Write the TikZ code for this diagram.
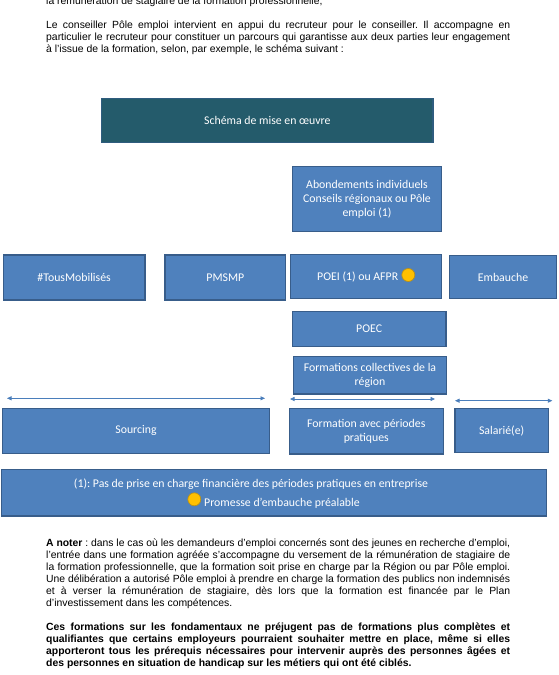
\documentclass[tikz,border=0pt]{standalone}
\usepackage{fontspec}
\setmainfont{Liberation Sans}
\newfontfamily\boxfont{Carlito}
\usetikzlibrary{arrows.meta}
\definecolor{boxfill}{HTML}{4F81BD}
\definecolor{boxdraw}{HTML}{385D8A}
\definecolor{tealfill}{HTML}{245B6B}
\definecolor{tealdraw}{HTML}{2F5C7E}
\definecolor{arrowcol}{HTML}{4A7EBB}
\definecolor{dotfill}{HTML}{FFC000}
\definecolor{dotdraw}{HTML}{B8901A}
\frenchspacing
\newsavebox\jbox
\newcommand\jline[1]{\sbox\jbox{#1}\ifdim\wd\jbox>464pt\relax\resizebox{464pt}{\ht\jbox}{\usebox\jbox}\else\makebox[464pt][s]{#1}\fi}
\begin{document}
\begin{tikzpicture}[x=1pt,y=-1pt,
  box/.style={draw=boxdraw, line width=1.2pt, fill=boxfill, text=white,
    font=\boxfont\fontsize{11.8}{14}\selectfont, align=center, inner sep=0pt},
  boxtext/.style={text=white, font=\boxfont\fontsize{11.8}{14}\selectfont, inner sep=0pt},
  body/.style={anchor=base west, inner sep=0pt, font=\fontsize{10.4}{12}\selectfont},
  span/.style={draw=arrowcol, line width=0.8pt,
    {Triangle[length=4.5pt,width=4pt]}-{Triangle[length=4.5pt,width=4pt]}},
  dot/.style={circle, fill=dotfill, draw=dotdraw, line width=0.7pt,
    minimum size=13pt, inner sep=0pt}]
\useasboundingbox (0,0) rectangle (558,675);
\fill[white] (0,0) rectangle (558,675);

% top text
\node[body] (t0) at (46,4) {la rémunération de stagiaire de la formation professionnelle,};
\node[body] (t1) at (46,28) {\jline{Le conseiller Pôle emploi intervient en appui du recruteur pour le conseiller. Il accompagne en}};
\node[body] (t2) at (46,40) {\jline{particulier le recruteur pour constituer un parcours qui garantisse aux deux parties leur engagement}};
\node[body] (t3) at (46,52) {à l’issue de la formation, selon, par exemple, le schéma suivant :};

% diagram
\node[box, draw=tealdraw, fill=tealfill, minimum width=331.3pt, minimum height=44.4pt] (schema) at (267.35,120.5) {Schéma de mise en œuvre};
\node[box, minimum width=149.4pt, minimum height=65pt] (abond) at (367,199.2) {Abondements individuels\\Conseils régionaux ou Pôle\\emploi (1)};
\node[box, minimum width=141.7pt, minimum height=45pt] (tous) at (74.15,277.5) {\#TousMobilisés};
\node[box, minimum width=120.7pt, minimum height=45pt] (pmsmp) at (225.35,277.5) {PMSMP};
\node[box, minimum width=151pt, minimum height=44pt] (poei) at (366.2,276.8) {POEI (1) ou AFPR\hspace{17pt}};
\node[dot] (dot1) at (408.3,275) {};
\node[box, minimum width=107.4pt, minimum height=42.6pt] (embauche) at (503,277) {Embauche};
\node[box, minimum width=153.7pt, minimum height=35pt] (poec) at (369.15,329.2) {POEC};
\node[box, minimum width=153.4pt, minimum height=37.3pt] (formcoll) at (370,375.35) {Formations collectives de la\\région};

\coordinate (a1l) at (7,398.3);
\coordinate (a1r) at (265,398.3);
\coordinate (a2l) at (290,399);
\coordinate (a2r) at (435,399);
\coordinate (a3l) at (455,400.7);
\coordinate (a3r) at (552.3,400.7);
\draw[span] (a1l) -- (a1r);
\draw[span] (a2l) -- (a2r);
\draw[span] (a3l) -- (a3r);

\node[box, minimum width=266.6pt, minimum height=45pt] (sourcing) at (136,430.8) {Sourcing};
\node[box, minimum width=154pt, minimum height=45.7pt] (formation) at (366.3,431.15) {Formation avec périodes\\pratiques};
\node[box, minimum width=93.3pt, minimum height=44.4pt] (salarie) at (501.65,430.5) {Salarié(e)};

\node[box, minimum width=545pt, minimum height=46.7pt] (note) at (274.2,492.65) {};
\node[boxtext] (n1) at (251,484) {(1): Pas de prise en charge financière des périodes pratiques en entreprise};
\node[dot] (dot2) at (194.3,499.3) {};
\node[boxtext, anchor=west] (n2) at (204,503.3) {Promesse d’embauche préalable};

% bottom text
\node[body] (b1) at (46,546) {\jline{\textbf{A noter} : dans le cas où les demandeurs d’emploi concernés sont des jeunes en recherche d’emploi,}};
\node[body] (b2) at (46,558) {\jline{l’entrée dans une formation agréée s’accompagne du versement de la rémunération de stagiaire de}};
\node[body] (b3) at (46,570) {\jline{la formation professionnelle, que la formation soit prise en charge par la Région ou par Pôle emploi.}};
\node[body] (b4) at (46,582) {\jline{Une délibération a autorisé Pôle emploi à prendre en charge la formation des publics non indemnisés}};
\node[body] (b5) at (46,594) {\jline{et à verser la rémunération de stagiaire, dès lors que la formation est financée par le Plan}};
\node[body] (b6) at (46,606) {d’investissement dans les compétences.};
\node[body] (c1) at (46,630) {\jline{\bfseries Ces formations sur les fondamentaux ne préjugent pas de formations plus complètes et}};
\node[body] (c2) at (46,642) {\jline{\bfseries qualifiantes que certains employeurs pourraient souhaiter mettre en place, même si elles}};
\node[body] (c3) at (46,654) {\jline{\bfseries apporteront tous les prérequis nécessaires pour intervenir auprès des personnes âgées et}};
\node[body] (c4) at (46,666) {\bfseries des personnes en situation de handicap sur les métiers qui ont été ciblés.};
\end{tikzpicture}
\end{document}
